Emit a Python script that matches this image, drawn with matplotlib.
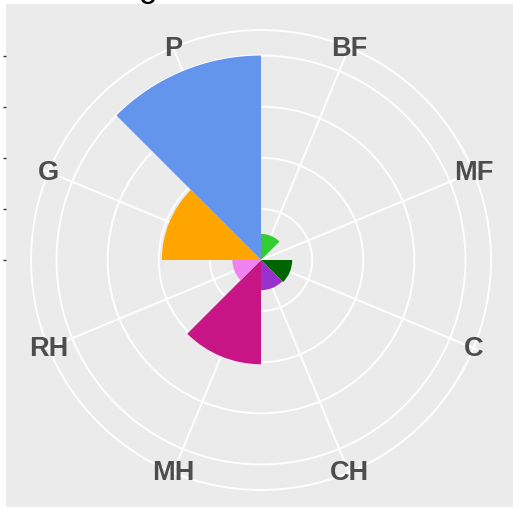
import numpy as np
import matplotlib.pyplot as plt

# categories in clockwise order, starting at 12 o'clock
categories = ["BF", "MF", "C", "CH", "MH", "RH", "G", "P"]
values = [5.1, 0, 6.1, 5.9, 20.4, 5.6, 19.4, 40]
colors = ["#32CD32", "#FFFFFF", "#006400", "#9932CC",
          "#C71585", "#EE82EE", "#FFA500", "#6495ED"]
r_breaks = [0, 10, 20, 30, 40]

W, H = 513, 510
fig = plt.figure(figsize=(W / 100, H / 100), dpi=100)

# centre of the polar plot and radius of the outer ring, in pixels
cx, cy = 261, 261
r_px = 230
r_max = 45
scale = r_px / r_max
r_lim = 46  # a little room so the outer ring is not clipped
rl_px = r_lim * scale

# grey panel behind everything (carries the left r-axis ticks)
left, right, top, bottom = 6, 518, 5, 508
ax0 = fig.add_axes([left / W, (H - bottom) / H, (right - left) / W, (bottom - top) / H])
ax0.set_facecolor("#EBEBEB")
ax0.set_xlim(-(cx - left) / scale, (right - cx) / scale)
ax0.set_ylim(-(bottom - cy) / scale, (cy - top) / scale)
for s in ax0.spines.values():
    s.set_visible(False)
ax0.set_xticks([])
ax0.set_yticks(r_breaks)
ax0.set_yticklabels([])
ax0.tick_params(axis="y", length=2.2, width=1, color="#333333")

# polar bars
ax = fig.add_axes([(cx - rl_px) / W, (H - cy - rl_px) / H, 2 * rl_px / W, 2 * rl_px / H],
                  projection="polar")
ax.set_facecolor("none")
ax.set_theta_zero_location("N")
ax.set_theta_direction(-1)

n = len(categories)
theta = np.arange(n) * 2 * np.pi / n + np.pi / n
ax.bar(theta, values, width=2 * np.pi / n, color=colors, linewidth=0, zorder=3)

ax.set_ylim(0, r_lim)
ax.set_yticks(r_breaks[1:] + [r_max])
ax.set_yticklabels([])
ax.set_xticks(theta)
ax.set_xticklabels([])
ax.tick_params(length=0)
ax.grid(True, color="white", linewidth=1.4)
# spokes stop at the outer ring
for gl in ax.xaxis.get_gridlines():
    gl.set_data([gl.get_xdata()[0]] * 2, [0, r_max])
ax.spines["polar"].set_visible(False)

for t, lab in zip(theta, categories):
    ax.text(t, r_max, lab, ha="center", va="center", fontsize=19.5,
            fontweight="bold", family="Liberation Sans", color="#4D4D4D", zorder=4)

# title, cut off at the top of the image
fig.text(139 / W, 1.006, "g", ha="left", va="baseline", fontsize=24,
         family="Liberation Sans", color="black")

fig.savefig("out.png", dpi=100, facecolor="white")
